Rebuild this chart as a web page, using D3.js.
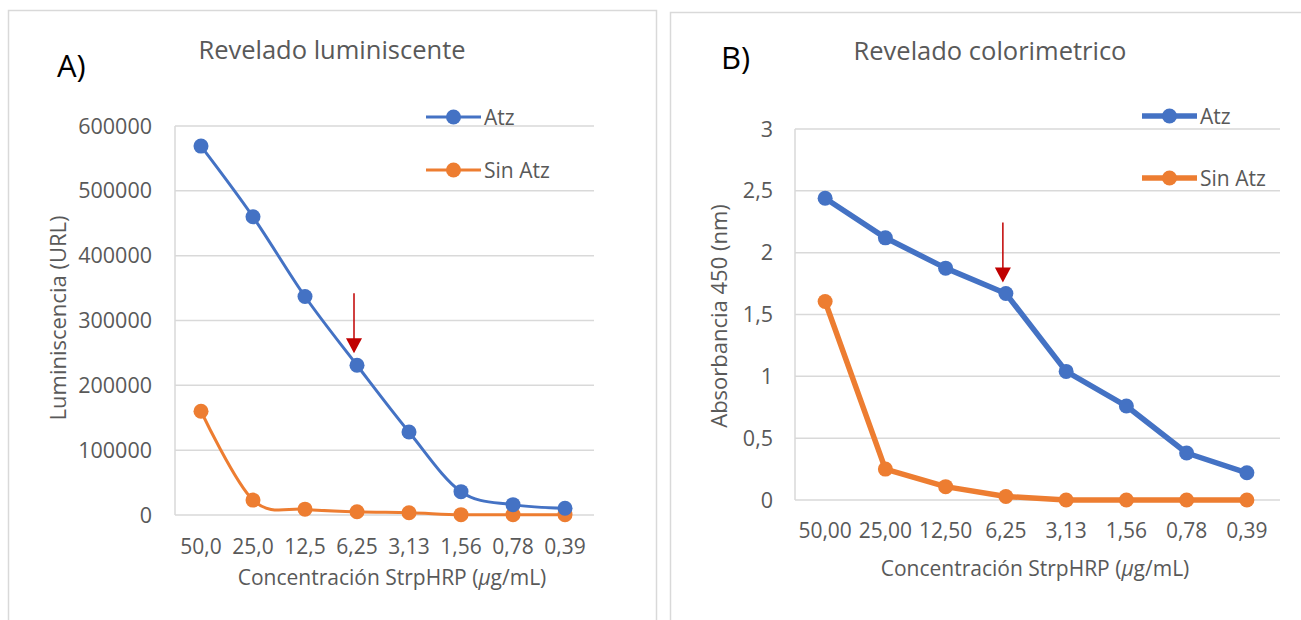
<!DOCTYPE html>
<html>
<head>
<meta charset="utf-8">
<script src="https://cdn.jsdelivr.net/npm/d3@7"></script>
<style>
  body { margin: 0; background: #fff; }
  svg { font-family: "Open Sans", sans-serif; }
</style>
</head>
<body>
<div id="chart"></div>
<script>
// panel A - luminescent readout
const catsA = ["50,0", "25,0", "12,5", "6,25", "3,13", "1,56", "0,78", "0,39"];
const atzA = [569000, 460000, 337000, 231000, 128000, 36000, 16000, 10500];
const sinAtzA = [160000, 23000, 9000, 5000, 3500, 500, 500, 500];
const ticksA = [0, 100000, 200000, 300000, 400000, 500000, 600000];

// panel B - colorimetric readout
const catsB = ["50,00", "25,00", "12,50", "6,25", "3,13", "1,56", "0,78", "0,39"];
const atzB = [2.44, 2.12, 1.875, 1.67, 1.04, 0.76, 0.38, 0.22];
const sinAtzB = [1.605, 0.25, 0.108, 0.028, 0, 0, 0, 0];
const ticksB = [0, 0.5, 1, 1.5, 2, 2.5, 3];

const blue = "#4472c4", orange = "#ed7d31", grid = "#d9d9d9", txt = "#595959";

const svg = d3.select("#chart").append("svg")
  .attr("width", 1301).attr("height", 620);

function panel(cfg) {
  const g = svg.append("g");
  // outer frame
  g.append("rect")
    .attr("x", cfg.frame[0]).attr("y", cfg.frame[1])
    .attr("width", cfg.frame[2]).attr("height", cfg.frame[3])
    .attr("fill", "none").attr("stroke", grid).attr("stroke-width", 1.5);

  const x = d3.scaleBand().domain(cfg.cats).range([cfg.x0, cfg.x1]);
  const y = d3.scaleLinear().domain([0, cfg.max]).range([cfg.yb, cfg.yt]);

  // gridlines
  g.selectAll(".grid").data(cfg.ticks).join("line")
    .attr("x1", cfg.x0).attr("x2", cfg.x1 + 3)
    .attr("y1", d => y(d)).attr("y2", d => y(d))
    .attr("stroke", grid).attr("stroke-width", 1.5);
  // left axis line
  g.append("line")
    .attr("x1", cfg.x0).attr("x2", cfg.x0)
    .attr("y1", y(cfg.max)).attr("y2", y(0))
    .attr("stroke", grid).attr("stroke-width", 1.5);

  // y tick labels
  g.selectAll(".yt").data(cfg.ticks).join("text")
    .attr("x", cfg.ylabX).attr("y", d => y(d) + 7.5)
    .attr("text-anchor", "end")
    .attr("font-size", 21.5).attr("fill", txt)
    .text(cfg.fmt);

  // x tick labels
  g.selectAll(".xt").data(cfg.cats).join("text")
    .attr("x", d => x(d) + x.bandwidth() / 2).attr("y", cfg.xlabY)
    .attr("text-anchor", "middle")
    .attr("font-size", 21).attr("fill", txt)
    .text(d => d);

  // axis titles (the mu is set in italics like the original)
  const xt = g.append("text")
    .attr("x", cfg.xTitle[0]).attr("y", cfg.xTitle[1])
    .attr("text-anchor", "middle").attr("font-size", 21).attr("fill", txt);
  xt.append("tspan").text("Concentración StrpHRP (");
  xt.append("tspan").attr("font-style", "italic").text("µ");
  xt.append("tspan").text("g/mL)");
  g.append("text")
    .attr("transform", `translate(${cfg.yTitle[0]},${cfg.yTitle[1]}) rotate(-90)`)
    .attr("text-anchor", "middle").attr("font-size", 22).attr("fill", txt)
    .text(cfg.yText);

  // chart title and panel letter
  g.append("text")
    .attr("x", cfg.title[0]).attr("y", cfg.title[1])
    .attr("text-anchor", "middle").attr("font-size", 25.5).attr("fill", txt)
    .text(cfg.titleText);
  g.append("text")
    .attr("x", cfg.letter[0]).attr("y", cfg.letter[1])
    .attr("font-size", 31).attr("fill", "#000")
    .text(cfg.letterText);

  const line = d3.line()
    .x((d, i) => x(cfg.cats[i]) + x.bandwidth() / 2)
    .y(d => y(d))
    .curve(cfg.curve);

  const series = [
    { name: "Atz", values: cfg.atz, color: blue },
    { name: "Sin Atz", values: cfg.sin, color: orange }
  ];

  // draw orange first so blue sits on top where they meet
  [series[1], series[0]].forEach(s => {
    g.append("path")
      .datum(s.values)
      .attr("fill", "none").attr("stroke", s.color)
      .attr("stroke-width", cfg.lw).attr("stroke-linejoin", "round")
      .attr("d", line);
    g.selectAll(null).data(s.values).join("circle")
      .attr("cx", (d, i) => x(cfg.cats[i]) + x.bandwidth() / 2)
      .attr("cy", d => y(d))
      .attr("r", 7.5).attr("fill", s.color);
  });

  // legend
  series.forEach((s, i) => {
    const ly = cfg.legend[1] + i * cfg.legendGap;
    g.append("line")
      .attr("x1", cfg.legend[0]).attr("x2", cfg.legend[0] + 55)
      .attr("y1", ly).attr("y2", ly)
      .attr("stroke", s.color).attr("stroke-width", cfg.lw);
    g.append("circle")
      .attr("cx", cfg.legend[0] + 27.5).attr("cy", ly).attr("r", 7.5)
      .attr("fill", s.color);
    g.append("text")
      .attr("x", cfg.legend[0] + 58).attr("y", ly + 7.5)
      .attr("font-size", 21).attr("fill", txt)
      .text(s.name);
  });

  // red arrow pointing at the 6,25 point
  const ax = x("6,25") + x.bandwidth() / 2 - 3;
  const tip = y(cfg.atz[3]) - cfg.arrowGap;
  g.append("line")
    .attr("x1", ax).attr("x2", ax)
    .attr("y1", tip - cfg.arrowLen).attr("y2", tip - 12)
    .attr("stroke", "#c00000").attr("stroke-width", 1.5);
  g.append("path")
    .attr("d", `M${ax - 8},${tip - 15}L${ax + 8},${tip - 15}L${ax},${tip}Z`)
    .attr("fill", "#c00000");
}

panel({
  frame: [8.5, 10.5, 648, 620],
  cats: catsA, atz: atzA, sin: sinAtzA, ticks: ticksA, max: 600000,
  x0: 175, x1: 591, yb: 515, yt: 126,
  ylabX: 152, xlabY: 554, fmt: d => d,
  xTitle: [392, 585], yTitle: [66, 318], yText: "Luminiscencia (URL)",
  title: [332, 59], titleText: "Revelado luminiscente",
  letter: [57, 77], letterText: "A)",
  curve: d3.curveCardinal.tension(0), lw: 3,
  legend: [426, 117], legendGap: 53,
  arrowGap: 12, arrowLen: 60
});

panel({
  frame: [670.5, 12.5, 640, 620],
  cats: catsB, atz: atzB, sin: sinAtzB, ticks: ticksB, max: 3,
  x0: 795, x1: 1277, yb: 500, yt: 129,
  ylabX: 773, xlabY: 538, fmt: d => String(d).replace(".", ","),
  xTitle: [1035, 576], yTitle: [727, 316], yText: "Absorbancia 450 (nm)",
  title: [990, 60], titleText: "Revelado colorimetrico",
  letter: [721, 69], letterText: "B)",
  curve: d3.curveLinear, lw: 5.5,
  legend: [1142, 116], legendGap: 62,
  arrowGap: 11, arrowLen: 60
});
</script>
</body>
</html>
